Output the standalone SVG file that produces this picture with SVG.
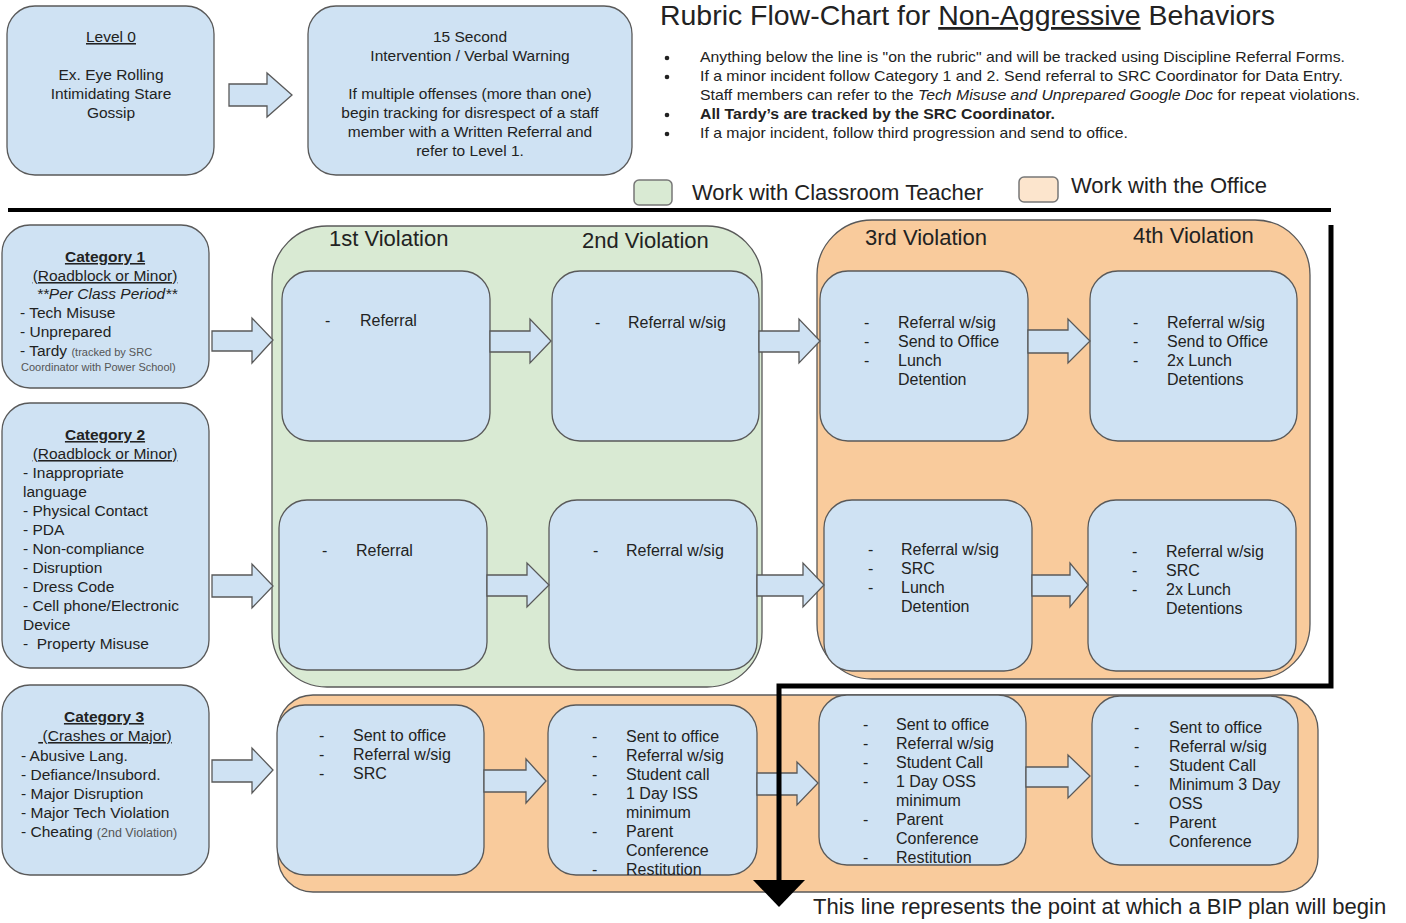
<svg xmlns="http://www.w3.org/2000/svg" width="1406" height="923" viewBox="0 0 1406 923">
<style>
.box{fill:#cfe2f3;stroke:#595959;stroke-width:1.3}
.arr{fill:#cfe2f3;stroke:#595959;stroke-width:1.3;stroke-linejoin:miter}
.green{fill:#d9ead3;stroke:#595959;stroke-width:1.3}
.orange{fill:#f9cb9c;stroke:#595959;stroke-width:1.3}
text{font-family:"Liberation Sans",Arial,sans-serif;fill:#222}
.s14{font-size:15.5px}
.s15{font-size:15.5px}
.v{font-size:16px}
.h{font-size:22px}
.c{text-anchor:middle}
.u{text-decoration:underline}
.b{font-weight:bold}
.sm{font-size:11px;fill:#555}
.sm2{font-size:12.5px;fill:#555}
.bl{font-size:14.5px}
.line{fill:none;stroke:#000;stroke-width:5;stroke-linejoin:miter}
</style>
<rect width="1406" height="923" fill="#ffffff"/>

<g id="title">
<text x="660" y="25" font-size="27.5" textLength="615" lengthAdjust="spacingAndGlyphs">Rubric Flow-Chart for <tspan class="u">Non-Aggressive</tspan> Behaviors</text>
</g>
<g id="notes">
<circle cx="667" cy="58" r="2.3" fill="#222"/>
<circle cx="667" cy="77" r="2.3" fill="#222"/>
<circle cx="667" cy="115" r="2.3" fill="#222"/>
<circle cx="667" cy="134" r="2.3" fill="#222"/>
<text x="700" y="62" class="bl" textLength="645" lengthAdjust="spacingAndGlyphs">Anything below the line is "on the rubric" and will be tracked using Discipline Referral Forms.</text>
<text x="700" y="81" class="bl" textLength="643" lengthAdjust="spacingAndGlyphs">If a minor incident follow Category 1 and 2. Send referral to SRC Coordinator for Data Entry.</text>
<text x="700" y="100" class="bl" textLength="660" lengthAdjust="spacingAndGlyphs">Staff members can refer to the <tspan font-style="italic">Tech Misuse and Unprepared Google Doc</tspan> for repeat violations.</text>
<text x="700" y="119" class="bl b" textLength="355" lengthAdjust="spacingAndGlyphs">All Tardy’s are tracked by the SRC Coordinator.</text>
<text x="700" y="138" class="bl" textLength="428" lengthAdjust="spacingAndGlyphs">If a major incident, follow third progression and send to office.</text>
</g>
<g id="legend">
<rect x="634" y="180" width="38" height="25" rx="5" fill="#d9ead3" stroke="#777" stroke-width="1.5"/>
<text x="692" y="200" font-size="22">Work with Classroom Teacher</text>
<rect x="1019" y="177" width="39" height="25" rx="5" fill="#fce5cd" stroke="#777" stroke-width="1.5"/>
<text x="1071" y="193" font-size="22">Work with the Office</text>
</g>

<g id="level0">
<rect class="box" x="7" y="6" width="207" height="169" rx="28"/>
<text class="s14 c"><tspan x="111" y="42" class="u">Level 0</tspan><tspan x="111" y="80">Ex. Eye Rolling</tspan><tspan x="111" y="99">Intimidating Stare</tspan><tspan x="111" y="118">Gossip</tspan></text>
</g>
<g id="intervention">
<rect class="box" x="308" y="6" width="324" height="169" rx="28"/>
<text class="s14 c"><tspan x="470" y="42">15 Second</tspan><tspan x="470" y="61">Intervention / Verbal Warning</tspan><tspan x="470" y="99">If multiple offenses (more than one)</tspan><tspan x="470" y="118">begin tracking for disrespect of a staff</tspan><tspan x="470" y="137">member with a Written Referral and</tspan><tspan x="470" y="156">refer to Level 1.</tspan></text>
</g>

<g id="cat1">
<rect class="box" x="2" y="225" width="207" height="163" rx="28"/>
<text class="s15 c b u" x="105" y="262">Category 1</text>
<text class="s15 c u" x="105" y="281">(Roadblock or Minor)</text>
<text class="s15 c" x="107" y="299" font-style="italic">**Per Class Period**</text>
<text class="s15" x="20" y="318">- Tech Misuse</text>
<text class="s15" x="20" y="337">- Unprepared</text>
<text class="s15" x="20" y="356">- Tardy <tspan class="sm">(tracked by SRC</tspan></text>
<text class="sm" x="21" y="371">Coordinator with Power School)</text>
</g>
<g id="cat2">
<rect class="box" x="2" y="403" width="207" height="265" rx="28"/>
<text class="s15 c b u" x="105" y="440">Category 2</text>
<text class="s15 c u" x="105" y="459">(Roadblock or Minor)</text>
<text class="s15"><tspan x="23" y="478">- Inappropriate</tspan><tspan x="23" y="497">language</tspan><tspan x="23" y="516">- Physical Contact</tspan><tspan x="23" y="535">- PDA</tspan><tspan x="23" y="554">- Non-compliance</tspan><tspan x="23" y="573">- Disruption</tspan><tspan x="23" y="592">- Dress Code</tspan><tspan x="23" y="611">- Cell phone/Electronic</tspan><tspan x="23" y="630">Device</tspan><tspan x="23" y="649">-&#160; Property Misuse</tspan></text>
</g>
<g id="cat3">
<rect class="box" x="2" y="685" width="207" height="190" rx="28"/>
<text class="s15 c b u" x="104" y="722">Category 3</text>
<text class="s15 c u" x="105" y="741">&#160;(Crashes or Major)</text>
<text class="s15"><tspan x="21" y="761">- Abusive Lang.</tspan><tspan x="21" y="780">- Defiance/Insubord.</tspan><tspan x="21" y="799">- Major Disruption</tspan><tspan x="21" y="818">- Major Tech Violation</tspan><tspan x="21" y="837">- Cheating <tspan class="sm2">(2nd Violation)</tspan></tspan></text>
</g>

<g id="teacher-zone">
<rect class="green" x="272" y="226" width="490" height="461" rx="55"/>
<text class="h" x="329" y="246">1st Violation</text>
<text class="h" x="582" y="248">2nd Violation</text>
</g>
<g id="office-zone">
<rect class="orange" x="817" y="220" width="493" height="459" rx="55"/>
<text class="h" x="865" y="245">3rd Violation</text>
<text class="h" x="1133" y="243">4th Violation</text>
</g>
<g id="major-zone">
<rect class="orange" x="278" y="695" width="1040" height="197" rx="35"/>
</g>

<g id="c1v1">
<rect class="box" x="282" y="271" width="208" height="170" rx="28"/>
<text class="v"><tspan x="325" y="326">-</tspan><tspan x="360" y="326">Referral</tspan></text>
</g>
<g id="c1v2">
<rect class="box" x="552" y="271" width="207" height="170" rx="28"/>
<text class="v"><tspan x="595" y="328">-</tspan><tspan x="628" y="328">Referral w/sig</tspan></text>
</g>
<g id="c1v3">
<rect class="box" x="820" y="271" width="208" height="170" rx="28"/>
<text class="v"><tspan x="864" y="328">-</tspan><tspan x="898" y="328">Referral w/sig</tspan><tspan x="864" y="347">-</tspan><tspan x="898" y="347">Send to Office</tspan><tspan x="864" y="366">-</tspan><tspan x="898" y="366">Lunch</tspan><tspan x="898" y="385">Detention</tspan></text>
</g>
<g id="c1v4">
<rect class="box" x="1090" y="271" width="207" height="170" rx="28"/>
<text class="v"><tspan x="1133" y="328">-</tspan><tspan x="1167" y="328">Referral w/sig</tspan><tspan x="1133" y="347">-</tspan><tspan x="1167" y="347">Send to Office</tspan><tspan x="1133" y="366">-</tspan><tspan x="1167" y="366">2x Lunch</tspan><tspan x="1167" y="385">Detentions</tspan></text>
</g>

<g id="c2v1">
<rect class="box" x="279" y="500" width="208" height="170" rx="28"/>
<text class="v"><tspan x="322" y="556">-</tspan><tspan x="356" y="556">Referral</tspan></text>
</g>
<g id="c2v2">
<rect class="box" x="549" y="500" width="208" height="170" rx="28"/>
<text class="v"><tspan x="593" y="556">-</tspan><tspan x="626" y="556">Referral w/sig</tspan></text>
</g>
<g id="c2v3">
<rect class="box" x="824" y="500" width="208" height="171" rx="28"/>
<text class="v"><tspan x="868" y="555">-</tspan><tspan x="901" y="555">Referral w/sig</tspan><tspan x="868" y="574">-</tspan><tspan x="901" y="574">SRC</tspan><tspan x="868" y="593">-</tspan><tspan x="901" y="593">Lunch</tspan><tspan x="901" y="612">Detention</tspan></text>
</g>
<g id="c2v4">
<rect class="box" x="1088" y="500" width="208" height="171" rx="28"/>
<text class="v"><tspan x="1132" y="557">-</tspan><tspan x="1166" y="557">Referral w/sig</tspan><tspan x="1132" y="576">-</tspan><tspan x="1166" y="576">SRC</tspan><tspan x="1132" y="595">-</tspan><tspan x="1166" y="595">2x Lunch</tspan><tspan x="1166" y="614">Detentions</tspan></text>
</g>

<g id="c3v1">
<rect class="box" x="277" y="705" width="207" height="170" rx="28"/>
<text class="v"><tspan x="319" y="741">-</tspan><tspan x="353" y="741">Sent to office</tspan><tspan x="319" y="760">-</tspan><tspan x="353" y="760">Referral w/sig</tspan><tspan x="319" y="779">-</tspan><tspan x="353" y="779">SRC</tspan></text>
</g>
<g id="c3v2">
<rect class="box" x="548" y="705" width="209" height="170" rx="28"/>
<text class="v"><tspan x="592" y="742">-</tspan><tspan x="626" y="742">Sent to office</tspan><tspan x="592" y="761">-</tspan><tspan x="626" y="761">Referral w/sig</tspan><tspan x="592" y="780">-</tspan><tspan x="626" y="780">Student call</tspan><tspan x="592" y="799">-</tspan><tspan x="626" y="799">1 Day ISS</tspan><tspan x="626" y="818">minimum</tspan><tspan x="592" y="837">-</tspan><tspan x="626" y="837">Parent</tspan><tspan x="626" y="856">Conference</tspan><tspan x="592" y="875">-</tspan><tspan x="626" y="875">Restitution</tspan></text>
</g>
<g id="c3v3">
<rect class="box" x="819" y="695" width="207" height="170" rx="28"/>
<text class="v"><tspan x="863" y="730">-</tspan><tspan x="896" y="730">Sent to office</tspan><tspan x="863" y="749">-</tspan><tspan x="896" y="749">Referral w/sig</tspan><tspan x="863" y="768">-</tspan><tspan x="896" y="768">Student Call</tspan><tspan x="863" y="787">-</tspan><tspan x="896" y="787">1 Day OSS</tspan><tspan x="896" y="806">minimum</tspan><tspan x="863" y="825">-</tspan><tspan x="896" y="825">Parent</tspan><tspan x="896" y="844">Conference</tspan><tspan x="863" y="863">-</tspan><tspan x="896" y="863">Restitution</tspan></text>
</g>
<g id="c3v4">
<rect class="box" x="1092" y="696" width="206" height="169" rx="28"/>
<text class="v"><tspan x="1134" y="733">-</tspan><tspan x="1169" y="733">Sent to office</tspan><tspan x="1134" y="752">-</tspan><tspan x="1169" y="752">Referral w/sig</tspan><tspan x="1134" y="771">-</tspan><tspan x="1169" y="771">Student Call</tspan><tspan x="1134" y="790">-</tspan><tspan x="1169" y="790">Minimum 3 Day</tspan><tspan x="1169" y="809">OSS</tspan><tspan x="1134" y="828">-</tspan><tspan x="1169" y="828">Parent</tspan><tspan x="1169" y="847">Conference</tspan></text>
</g>

<g id="connectors">
<path class="arr" d="M229,84 H267 V73 L292,95 L267,117 V106 H229 Z"/>
<path class="arr" d="M212,331 H252 V318 L273,340 L252,363 V351 H212 Z"/>
<path class="arr" d="M212,575 H252 V564 L273,586 L252,608 V597 H212 Z"/>
<path class="arr" d="M212,760 H252 V748 L273,770 L252,793 V782 H212 Z"/>
<path class="arr" d="M490,331 H530 V319 L551,341 L530,363 V352 H490 Z"/>
<path class="arr" d="M487,575 H527 V563 L549,585 L527,607 V596 H487 Z"/>
<path class="arr" d="M759,331 H799 V319 L820,341 L799,363 V352 H759 Z"/>
<path class="arr" d="M757,575 H803 V563 L824,585 L803,607 V596 H757 Z"/>
<path class="arr" d="M1028,330 H1068 V319 L1090,341 L1068,363 V353 H1028 Z"/>
<path class="arr" d="M1032,575 H1070 V563 L1088,585 L1070,607 V596 H1032 Z"/>
<path class="arr" d="M484,770 H526 V759 L546,781 L526,803 V792 H484 Z"/>
<path class="arr" d="M757,773 H797 V762 L818,783 L797,805 V795 H757 Z"/>
<path class="arr" d="M1026,767 H1068 V755 L1090,776 L1068,798 V787 H1026 Z"/>
<path d="M8,210 H1331" stroke="#000" stroke-width="4" fill="none"/>
<path class="line" d="M1331,225 V686 H779 V882"/>
<polygon points="753,880 805,880 779,907" fill="#000"/>
</g>
<g id="bip-note">
<text x="813" y="914" font-size="22">This line represents the point at which a BIP plan will begin</text>
</g>
</svg>
